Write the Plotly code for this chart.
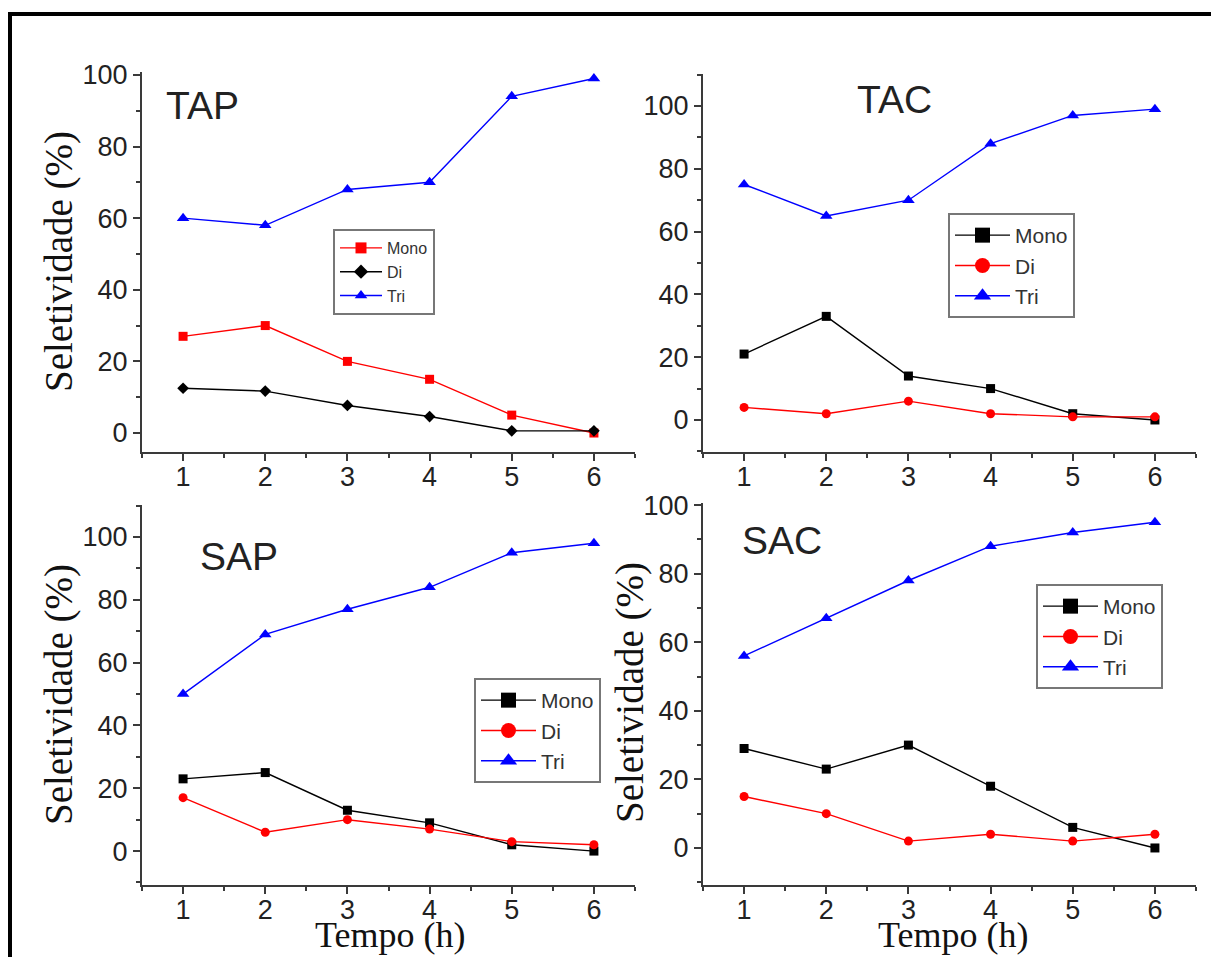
import plotly.graph_objects as go

# ---------------- data ----------------
hours = [1, 2, 3, 4, 5, 6]
series_names = ["Mono", "Di", "Tri"]
panel_names = ["TAP", "TAC", "SAP", "SAC"]

tap_mono = [27, 30, 20, 15, 5, 0]
tap_di = [12.5, 11.7, 7.7, 4.6, 0.6, 0.6]
tap_tri = [60, 58, 68, 70, 94, 99]

tac_mono = [21, 33, 14, 10, 2, 0]
tac_di = [4, 2, 6, 2, 1, 1]
tac_tri = [75, 65, 70, 88, 97, 99]

sap_mono = [23, 25, 13, 9, 2, 0]
sap_di = [17, 6, 10, 7, 3, 2]
sap_tri = [50, 69, 77, 84, 95, 98]

sac_mono = [29, 23, 30, 18, 6, 0]
sac_di = [15, 10, 2, 4, 2, 4]
sac_tri = [56, 67, 78, 88, 92, 95]

x_title = "Tempo (h)"
y_title = "Seletividade (%)"

# ---------------- layout helpers ----------------
W, H = 1211, 957


def px(x):
    return x / W


def py(y):
    return 1 - y / H


SANS = "Liberation Sans, Arial, sans-serif"
SERIF = "Liberation Serif, Times New Roman, serif"
AX = "#3a3a3a"

panels = [
    dict(name=panel_names[0], data=[tap_mono, tap_di, tap_tri],
         styles=[("#ff0000", "square"), ("#000000", "diamond"), ("#0000ff", "triangle-up")],
         xd=(142, 635), yd=(452, 72), yr=(-5.3, 100.8),
         leg=(333, 229), legfont=16, legmarker=11, itemw=42, label=(164, 106)),
    dict(name=panel_names[1], data=[tac_mono, tac_di, tac_tri],
         styles=[("#000000", "square"), ("#ff0000", "circle"), ("#0000ff", "triangle-up")],
         xd=(703, 1196), yd=(452, 74), yr=(-10.2, 110.2),
         leg=(948, 213), legfont=21, legmarker=15, itemw=55, label=(855, 100)),
    dict(name=panel_names[2], data=[sap_mono, sap_di, sap_tri],
         styles=[("#000000", "square"), ("#ff0000", "circle"), ("#0000ff", "triangle-up")],
         xd=(142, 635), yd=(885, 505), yr=(-10.8, 110.2),
         leg=(474, 678), legfont=21, legmarker=15, itemw=55, label=(198, 556)),
    dict(name=panel_names[3], data=[sac_mono, sac_di, sac_tri],
         styles=[("#000000", "square"), ("#ff0000", "circle"), ("#0000ff", "triangle-up")],
         xd=(703, 1196), yd=(885, 503), yr=(-10.8, 100.6),
         leg=(1036, 584), legfont=21, legmarker=15, itemw=55, label=(740, 540)),
]

fig = go.Figure()
layout = dict(
    width=W, height=H, autosize=False,
    margin=dict(l=0, r=0, t=0, b=0, pad=0, autoexpand=False),
    paper_bgcolor="white", plot_bgcolor="white",
    showlegend=True,
    annotations=[], shapes=[],
)

for i, p in enumerate(panels):
    n = i + 1
    xa = "x" if n == 1 else f"x{n}"
    ya = "y" if n == 1 else f"y{n}"
    legname = "legend" if n == 1 else f"legend{n}"
    for sname, vals, (col, sym) in zip(series_names, p["data"], p["styles"]):
        fig.add_trace(go.Scatter(
            x=hours, y=vals, mode="lines+markers", name=sname,
            line=dict(color=col, width=1.4),
            marker=dict(color=col, symbol=sym, size=9 if sym != "triangle-up" else 11),
            xaxis=xa, yaxis=ya, showlegend=False, legend=legname,
        ))
        # legend-only entry with larger legend marker
        fig.add_trace(go.Scatter(
            x=[None], y=[None], mode="lines+markers", name=sname,
            line=dict(color=col, width=1.4),
            marker=dict(color=col, symbol=sym, size=p["legmarker"]),
            xaxis=xa, yaxis=ya, showlegend=True, legend=legname,
        ))

    common = dict(showline=True, linecolor=AX, linewidth=2, ticks="outside",
                  ticklen=7, tickwidth=2, tickcolor=AX, showgrid=False,
                  zeroline=False, fixedrange=True, automargin=False,
                  tickfont=dict(family=SANS, size=27, color="#222"))
    xkey = "xaxis" if n == 1 else f"xaxis{n}"
    ykey = "yaxis" if n == 1 else f"yaxis{n}"
    layout[xkey] = dict(common, domain=[px(p["xd"][0]), px(p["xd"][1])],
                        range=[0.5, 6.5], tick0=1, dtick=1, anchor=ya,
                        ticklabelstandoff=-7,
                        minor=dict(ticks="outside", ticklen=4, tickwidth=2,
                                   tickcolor=AX, dtick=0.5, tick0=0.5))
    layout[ykey] = dict(common, domain=[py(p["yd"][0]), py(p["yd"][1])],
                        range=list(p["yr"]), tick0=0, dtick=20, anchor=xa,
                        minor=dict(ticks="outside", ticklen=4, tickwidth=2,
                                   tickcolor=AX, dtick=10, tick0=0))
    layout[legname] = dict(
        x=px(p["leg"][0]), y=py(p["leg"][1]), xanchor="left", yanchor="top",
        bgcolor="white", bordercolor="#777", borderwidth=2,
        font=dict(family=SANS, size=p["legfont"], color="#333"),
        tracegroupgap=0, itemwidth=p["itemw"],
        itemclick=False, itemdoubleclick=False,
    )
    layout["annotations"].append(dict(
        text=p["name"], x=px(p["label"][0]), y=py(p["label"][1]),
        xref="paper", yref="paper", xanchor="left", yanchor="middle",
        showarrow=False, font=dict(family=SANS, size=39, color="#222"),
    ))

# axis titles
for xc in (390, 953):
    layout["annotations"].append(dict(
        text=x_title, x=px(xc), y=0, xref="paper", yref="paper",
        xanchor="center", yanchor="bottom", showarrow=False,
        font=dict(family=SERIF, size=36, color="#111"),
    ))
for xc, yc in ((59, 262), (59, 695), (630, 693)):
    layout["annotations"].append(dict(
        text=y_title, x=px(xc), y=py(yc), xref="paper", yref="paper",
        xanchor="center", yanchor="middle", textangle=-90, showarrow=False,
        font=dict(family=SERIF, size=39, color="#111"),
    ))

# black frame (top and left edges)
layout["shapes"].append(dict(type="line", xref="paper", yref="paper",
                             x0=px(8), x1=1, y0=py(14), y1=py(14),
                             line=dict(color="black", width=4)))
layout["shapes"].append(dict(type="line", xref="paper", yref="paper",
                             x0=px(10), x1=px(10), y0=py(12), y1=0,
                             line=dict(color="black", width=4)))

fig.update_layout(**layout)
fig.write_html(
    "out.html",
    config={"displayModeBar": False},
    post_script=(
        "document.documentElement.style.margin='0';"
        "document.body.style.margin='0';"
        "document.body.style.overflow='hidden';"
        "var gd=document.getElementById('{plot_id}');"
        "gd.style.position='fixed';gd.style.top='0px';gd.style.left='0px';"
    ),
)
